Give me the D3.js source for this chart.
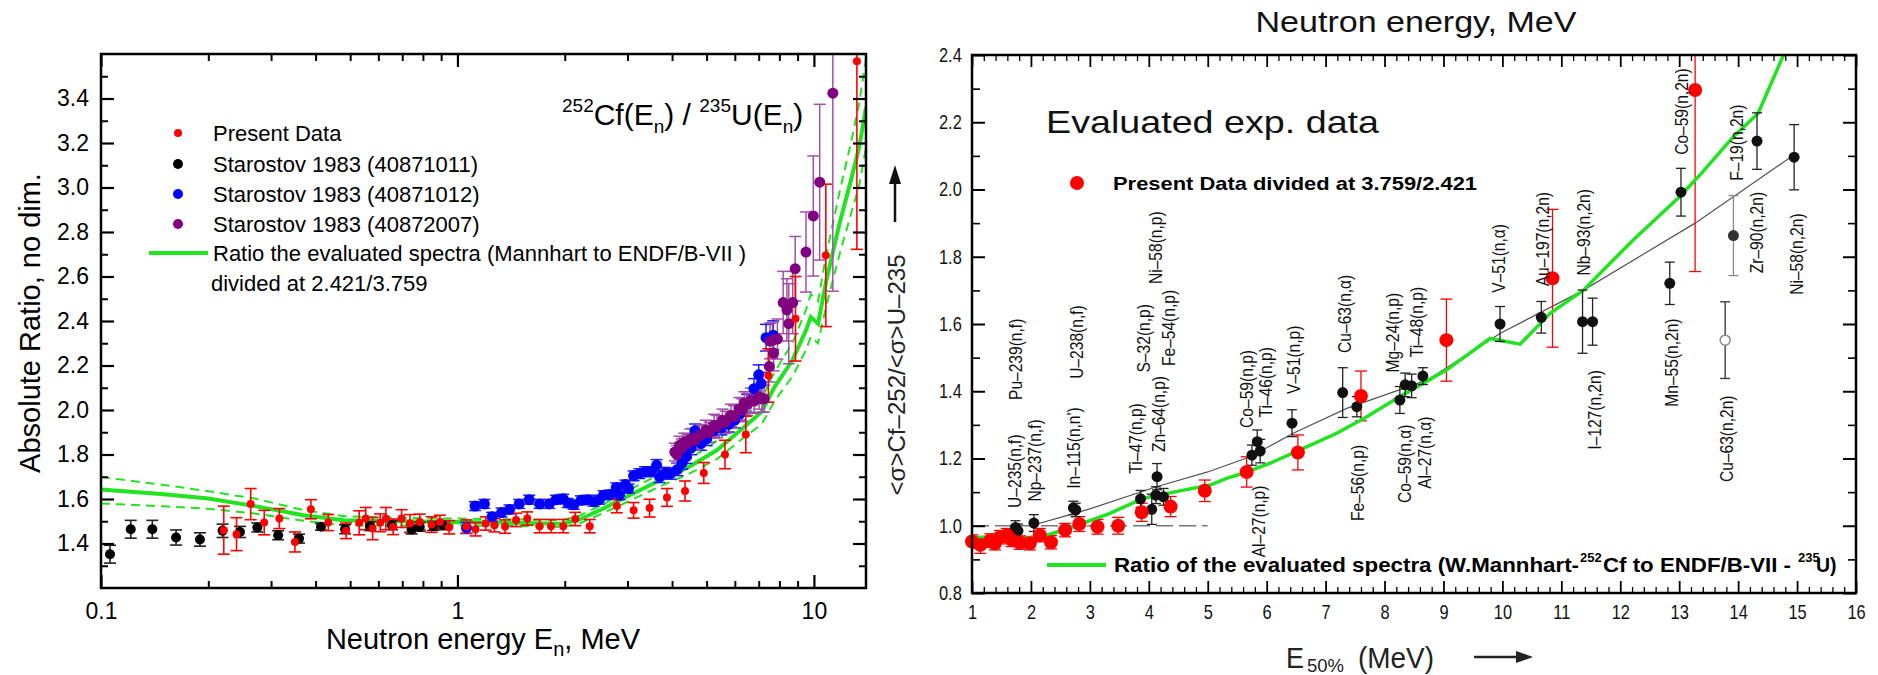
<!DOCTYPE html>
<html><head><meta charset="utf-8">
<script src="https://cdn.jsdelivr.net/npm/d3@7"></script>
<style>body{margin:0;background:#fff}svg{display:block}</style>
</head><body>
<svg id="c" width="1878" height="675"></svg>
<script>
// ---------------- LEFT PANEL DATA ----------------
const leftXTicks = [0.1, 1, 10];
const leftXMinor = [0.2,0.3,0.4,0.5,0.6,0.7,0.8,0.9,2,3,4,5,6,7,8,9];
const leftYTicks = [1.4,1.6,1.8,2.0,2.2,2.4,2.6,2.8,3.0,3.2,3.4];
const leftYMinor = [1.3,1.5,1.7,1.9,2.1,2.3,2.5,2.7,2.9,3.1,3.3,3.5];

const presentE = [0.221,0.240,0.263,0.287,0.3165,0.350,0.388,0.434,0.487,0.530,
 0.553,0.578,0.607,0.630,0.660,0.697,0.736,0.784,0.846,0.893,
 0.948,1.06,1.124,1.20,1.27,1.36,1.46,1.57,1.70,1.83,
 1.98,2.14,2.35,2.80,3.12,3.46,3.87,4.35,4.91,5.63,
 6.44,7.45,8.88,10.8,13.2];
const presentV = [1.460,1.442,1.577,1.494,1.512,1.407,1.554,1.494,1.457,1.493,
 1.512,1.467,1.493,1.512,1.475,1.512,1.490,1.497,1.485,1.497,
 1.473,1.476,1.464,1.490,1.482,1.476,1.506,1.512,1.478,1.478,
 1.478,1.510,1.478,1.568,1.549,1.559,1.607,1.636,1.717,1.800,
 1.890,2.155,2.410,2.695,3.567];
const presentErr = [0.108,0.074,0.070,0.055,0.045,0.045,0.043,0.036,0.035,0.054,
 0.050,0.050,0.040,0.050,0.035,0.040,0.040,0.035,0.035,0.030,
 0.030,0.030,0.030,0.030,0.030,0.030,0.030,0.030,0.030,0.030,
 0.030,0.030,0.030,0.030,0.035,0.040,0.040,0.045,0.047,0.064,
 0.082,0.120,0.190,0.320,0.845];

const blackE = [0.106,0.1212,0.1393,0.1624,0.1895,0.2193,0.2454,0.2745,0.314,0.3594,
 0.4141,0.484,0.569,0.655,0.7435,0.784,0.855,0.91];
const blackV = [1.352,1.464,1.464,1.427,1.418,1.457,1.452,1.472,1.437,1.422,
 1.475,1.464,1.478,1.482,1.463,1.475,1.479,1.482];
const blackErr = [0.04,0.04,0.04,0.034,0.03,0.03,0.025,0.02,0.02,0.02,
 0.015,0.02,0.02,0.02,0.02,0.02,0.02,0.02];

const blueE = [1.06,1.12,1.19,1.25,1.33,1.40,1.49,1.59,1.70,1.81,
 1.89,1.98,2.04,2.12,2.22,2.32,2.41,2.50,2.57,2.68,
 2.79,2.85,2.96,3.02,3.12,3.24,3.36,3.49,3.62,3.69,
 3.82,3.96,4.14,4.27,4.39,4.52,4.64,4.82,5.00,5.24,
 5.50,5.77,6.00,6.20,6.50,6.79,7.00,7.11,7.34,7.69];
const blueV = [1.470,1.568,1.578,1.520,1.539,1.553,1.578,1.597,1.578,1.578,
 1.597,1.601,1.582,1.574,1.594,1.597,1.588,1.597,1.617,1.620,
 1.652,1.617,1.665,1.647,1.704,1.714,1.723,1.723,1.752,1.699,
 1.717,1.714,1.733,1.762,1.790,1.829,1.907,1.849,1.870,1.907,
 1.920,1.936,1.955,1.983,2.030,2.096,2.158,2.119,2.325,2.336];
const blueErr = [0.025,0.02,0.02,0.02,0.02,0.02,0.02,0.02,0.02,0.02,
 0.02,0.02,0.02,0.02,0.02,0.02,0.02,0.02,0.02,0.02,
 0.02,0.02,0.02,0.02,0.022,0.022,0.022,0.022,0.025,0.025,
 0.025,0.025,0.028,0.028,0.03,0.03,0.03,0.03,0.03,0.032,
 0.032,0.035,0.035,0.035,0.04,0.045,0.045,0.05,0.06,0.065];

const purpleE = [4.07,4.13,4.20,4.26,4.33,4.42,4.50,4.57,4.65,4.77,
 4.85,4.98,5.10,5.25,5.35,5.54,5.65,5.85,5.97,6.18,
 6.30,6.38,6.50,6.65,6.80,7.02,7.15,7.25,7.50,7.53,
 7.65,7.71,7.90,8.20,8.40,8.50,8.72,8.86,9.50,9.96,
 10.38,11.30];
const purpleV = [1.811,1.800,1.842,1.830,1.856,1.850,1.870,1.872,1.865,1.886,
 1.890,1.909,1.900,1.931,1.925,1.954,1.945,1.976,1.970,2.006,
 2.000,2.032,2.025,2.044,2.040,2.059,2.050,2.051,2.196,2.310,
 2.313,2.256,2.319,2.483,2.450,2.388,2.483,2.635,2.710,2.872,
 3.024,3.424];
const purpleErr = [0.04,0.04,0.04,0.04,0.04,0.04,0.045,0.045,0.045,0.045,
 0.045,0.045,0.045,0.05,0.05,0.05,0.05,0.05,0.05,0.05,
 0.05,0.05,0.05,0.055,0.055,0.055,0.06,0.06,0.07,0.08,
 0.08,0.08,0.09,0.14,0.14,0.18,0.14,0.145,0.18,0.27,
 0.35,0.89];

const greenE = [0.1,0.15,0.2,0.27,0.37,0.48,0.7,1.0,1.5,1.97,
 2.2,2.55,3.07,3.7,4.45,5.35,6.4,7.13,7.75,8.7,
 9.5,9.8,10.27,10.84,11.8,12.7,13.4,14.0];
const greenMid = [1.643,1.621,1.602,1.568,1.527,1.505,1.500,1.497,1.492,1.489,
 1.508,1.555,1.620,1.684,1.743,1.820,1.926,1.991,2.103,2.223,
 2.358,2.418,2.388,2.583,2.838,3.032,3.182,3.360];
const greenHi = [1.699,1.663,1.635,1.602,1.550,1.523,1.515,1.512,1.508,1.505,
 1.525,1.575,1.645,1.712,1.777,1.862,1.977,2.050,2.170,2.300,
 2.450,2.520,2.490,2.700,2.980,3.200,3.380,3.580];
const greenLo = [1.580,1.567,1.556,1.535,1.502,1.482,1.480,1.482,1.478,1.474,
 1.490,1.535,1.595,1.657,1.712,1.780,1.880,1.935,2.040,2.150,
 2.270,2.330,2.300,2.470,2.700,2.880,3.010,3.180];

const legendLeft = ["Present Data","Starostov 1983 (40871011)","Starostov 1983 (40871012)","Starostov 1983 (40872007)"];

// ---------------- RIGHT PANEL DATA ----------------
const rightXTicks = [1,2,3,4,5,6,7,8,9,10,11,12,13,14,15,16];
const rightYTicks = [0.8,1.0,1.2,1.4,1.6,1.8,2.0,2.2,2.4];
const rightYMinor = [0.9,1.1,1.3,1.5,1.7,1.9,2.1,2.3];

const blackRx = [1.737,1.78,2.05,2.72,2.76,3.86,4.05,4.12,4.14,4.25,
 5.75,5.84,5.89,6.43,7.29,7.53,8.26,8.35,8.46,8.65,
 9.96,10.66,11.36,11.53,12.84,13.03,14.32,14.95];
const blackRy = [0.995,0.985,1.008,1.053,1.047,1.08,1.049,1.091,1.146,1.086,
 1.21,1.25,1.222,1.305,1.396,1.354,1.374,1.419,1.416,1.445,
 1.60,1.62,1.607,1.607,1.721,1.992,2.144,2.096];
const blackRerr = [0.02,0.02,0.025,0.02,0.02,0.025,0.045,0.025,0.039,0.025,
 0.03,0.035,0.035,0.04,0.074,0.03,0.04,0.035,0.035,0.025,
 0.052,0.047,0.094,0.07,0.063,0.071,0.084,0.097];
const grayRx = [13.92], grayRy = [1.863], grayRerr = [0.119];
const openRx = [13.78], openRy = [1.552], openRerr = [0.114];

const redRx = [1.0,1.14,1.31,1.39,1.475,1.59,1.67,1.81,1.98,2.15,
 2.34,2.58,2.82,3.13,3.48,3.88,4.37,4.95,5.66,6.53,
 7.60,9.05,10.85,13.27];
const redRy = [0.953,0.943,0.956,0.948,0.966,0.972,0.958,0.95,0.948,0.972,
 0.951,0.987,1.005,0.997,1.0,1.04,1.057,1.104,1.16,1.218,
 1.386,1.552,1.736,2.296];
const redRerr = [0.02,0.025,0.02,0.02,0.02,0.02,0.02,0.02,0.02,0.02,
 0.02,0.02,0.022,0.022,0.025,0.027,0.03,0.032,0.045,0.052,
 0.074,0.122,0.205,0.54];

const greenRx = [1.0,1.3,1.79,2.27,2.72,3.34,3.91,4.59,5.04,5.32,
 5.60,6.06,6.62,7.19,7.70,8.26,9.05,9.79,10.30,10.81,
 11.37,12.22,13.01,13.35,13.92,14.34,14.77,15.0];
const greenRy = [0.966,0.965,0.96,0.972,0.997,1.037,1.082,1.106,1.121,1.141,
 1.156,1.186,1.23,1.275,1.324,1.384,1.463,1.557,1.54,1.632,
 1.70,1.85,1.979,2.043,2.157,2.227,2.40,2.48];

const fitRx = [2.0,2.5,3.0,4.13,5.0,5.72,6.45,7.36,8.72,9.96,11.37,13.27,14.95];
const fitRy = [1.0,1.025,1.05,1.116,1.16,1.205,1.275,1.349,1.433,1.572,1.70,1.90,2.103];

const unityX = [1, 5], unityY = [1.0, 1.0];

const labels = ["U–235(n,f)","Pu–239(n,f)","Np–237(n,f)","In–115(n,n')","U–238(n,f)",
 "Ti–47(n,p)","Zn–64(n,p)","S–32(n,p)","Fe–54(n,p)","Ni–58(n,p)",
 "Al–27(n,p)","Co–59(n,p)","Ti–46(n,p)","V–51(n,p)","Cu–63(n,α)",
 "Fe–56(n,p)","Mg–24(n,p)","Ti–48(n,p)","Co–59(n,α)","Al–27(n,α)",
 "V–51(n,α)","Au–197(n,2n)","Nb–93(n,2n)","I–127(n,2n)","Mn–55(n,2n)",
 "Co–59(n,2n)","Cu–63(n,2n)","F–19(n,2n)","Zr–90(n,2n)","Ni–58(n,2n)"];
const labelX = [1.713,1.730,2.052,2.721,2.773,3.780,4.172,3.907,4.329,4.119,
 5.865,5.653,5.972,6.447,7.316,7.538,8.141,8.543,8.331,8.670,
 9.941,10.683,11.368,11.560,12.873,13.043,13.805,13.964,14.304,14.989];
const labelY = [1.053,1.374,1.072,1.110,1.437,1.155,1.219,1.456,1.475,1.719,
 0.906,1.291,1.322,1.392,1.514,1.014,1.456,1.501,1.068,1.110,
 1.693,1.712,1.744,1.226,1.354,2.103,1.130,2.026,1.751,1.687];

// ---------------- DRAWING ----------------
const svg = d3.select("#c");
svg.append("rect").attr("width",1878).attr("height",675).attr("fill","#fff");
const FONT = "Liberation Sans, Arial, Helvetica, sans-serif";
const idx = n => d3.range(n);

const xL = d3.scaleLog().domain([0.1,14]).range([101,866]);
const yL = d3.scaleLinear().domain([1.2,3.6]).range([588,54]);
const xR = d3.scaleLinear().domain([1,16]).range([972,1856]);
const yR = d3.scaleLinear().domain([0.8,2.4]).range([593,55]);

const defs = svg.append("defs");
defs.append("clipPath").attr("id","clipL").append("rect").attr("x",101).attr("y",54).attr("width",765).attr("height",534);
defs.append("clipPath").attr("id","clipR").append("rect").attr("x",972).attr("y",55).attr("width",884).attr("height",538);

function errBars(g, xs, ys, es, xs_, ys_, color, cap, w){
  const n = xs.length;
  g.selectAll(null).data(idx(n)).join("line")
    .attr("x1",i=>xs_(xs[i])).attr("x2",i=>xs_(xs[i]))
    .attr("y1",i=>ys_(ys[i]-es[i])).attr("y2",i=>ys_(ys[i]+es[i]))
    .attr("stroke",color).attr("stroke-width",w);
  [-1,1].forEach(s=>{
    g.selectAll(null).data(idx(n)).join("line")
      .attr("x1",i=>xs_(xs[i])-cap).attr("x2",i=>xs_(xs[i])+cap)
      .attr("y1",i=>ys_(ys[i]+s*es[i])).attr("y2",i=>ys_(ys[i]+s*es[i]))
      .attr("stroke",color).attr("stroke-width",w);
  });
}
function dots(g, xs, ys, xs_, ys_, r, fill){
  g.selectAll(null).data(idx(xs.length)).join("circle")
    .attr("cx",i=>xs_(xs[i])).attr("cy",i=>ys_(ys[i])).attr("r",r).attr("fill",fill);
}
function styleAxis(sel, w){
  sel.select(".domain").remove();
  sel.selectAll("line").attr("stroke","#000").attr("stroke-width",w);
}

// ===== LEFT PANEL =====
const gL = svg.append("g");
const lineL = d3.line().x(d=>xL(d[0])).y(d=>yL(d[1]));
const gLc = gL.append("g").attr("clip-path","url(#clipL)");
const GREEN = "#1fe41f";
gLc.append("path").attr("d",lineL(greenE.map((e,i)=>[e,greenHi[i]]))).attr("fill","none").attr("stroke",GREEN).attr("stroke-width",2).attr("stroke-dasharray","9,6");
gLc.append("path").attr("d",lineL(greenE.map((e,i)=>[e,greenLo[i]]))).attr("fill","none").attr("stroke",GREEN).attr("stroke-width",2).attr("stroke-dasharray","9,6");
gLc.append("path").attr("d",lineL(greenE.map((e,i)=>[e,greenMid[i]]))).attr("fill","none").attr("stroke",GREEN).attr("stroke-width",4);

errBars(gLc, blackE, blackV, blackErr, xL, yL, "#222", 6, 1.6);
dots(gL, blackE, blackV, xL, yL, 5, "#000");
errBars(gLc, blueE, blueV, blueErr, xL, yL, "#1a1aff", 6, 1.5);
dots(gL, blueE, blueV, xL, yL, 5.5, "#0000ff");
errBars(gLc, purpleE, purpleV, purpleErr, xL, yL, "#a050a8", 6, 1.5);
dots(gL, purpleE, purpleV, xL, yL, 5.5, "#800080");
errBars(gLc, presentE, presentV, presentErr, xL, yL, "#ff0000", 6, 1.6);
dots(gL, presentE, presentV, xL, yL, 4, "#ff0000");

// axes
const axB = gL.append("g").attr("transform","translate(0,588)")
  .call(d3.axisBottom(xL).tickValues(leftXTicks).tickSize(-13).tickPadding(15).tickFormat(d=>d<1?"0.1":String(d)));
styleAxis(axB,2.2);
axB.selectAll("text").attr("font-size",23).attr("font-family",FONT).attr("fill","#000");
const axBm = gL.append("g").attr("transform","translate(0,588)")
  .call(d3.axisBottom(xL).tickValues(leftXMinor).tickSize(-7).tickFormat(""));
styleAxis(axBm,2);
const axT = gL.append("g").attr("transform","translate(0,54)")
  .call(d3.axisTop(xL).tickValues(leftXTicks).tickSize(-13).tickFormat(""));
styleAxis(axT,2.2);
const axTm = gL.append("g").attr("transform","translate(0,54)")
  .call(d3.axisTop(xL).tickValues(leftXMinor).tickSize(-7).tickFormat(""));
styleAxis(axTm,2);
const axLy = gL.append("g").attr("transform","translate(101,0)")
  .call(d3.axisLeft(yL).tickValues(leftYTicks).tickSize(-13).tickPadding(12).tickFormat(d3.format(".1f")));
styleAxis(axLy,2.2);
axLy.selectAll("text").attr("font-size",23).attr("font-family",FONT).attr("fill","#000");
const axLym = gL.append("g").attr("transform","translate(101,0)")
  .call(d3.axisLeft(yL).tickValues(leftYMinor).tickSize(-7).tickFormat(""));
styleAxis(axLym,2);
const axRy = gL.append("g").attr("transform","translate(866,0)")
  .call(d3.axisRight(yL).tickValues(leftYTicks).tickSize(-13).tickFormat(""));
styleAxis(axRy,2.2);
const axRym = gL.append("g").attr("transform","translate(866,0)")
  .call(d3.axisRight(yL).tickValues(leftYMinor).tickSize(-7).tickFormat(""));
styleAxis(axRym,2);
gL.append("rect").attr("x",101).attr("y",54).attr("width",765).attr("height",534).attr("fill","none").attr("stroke","#000").attr("stroke-width",2.5);

// titles left
gL.append("text").attr("transform","translate(30,323) rotate(-90)").attr("text-anchor","middle").attr("dominant-baseline","central")
  .attr("font-size",29).attr("font-family",FONT).text("Absolute Ratio, no dim.");
const xt = gL.append("text").attr("x",483).attr("y",649).attr("text-anchor","middle").attr("font-size",29).attr("font-family",FONT);
xt.append("tspan").text("Neutron energy E");
xt.append("tspan").attr("font-size",20).attr("dy",7).text("n");
xt.append("tspan").attr("dy",-7).text(", MeV");

const an = gL.append("text").attr("x",562).attr("y",125).attr("font-size",30).attr("font-family",FONT);
an.append("tspan").attr("font-size",19).attr("dy",-13).text("252");
an.append("tspan").attr("dy",13).text("Cf(E");
an.append("tspan").attr("font-size",19).attr("dy",8).text("n");
an.append("tspan").attr("dy",-8).text(") / ");
an.append("tspan").attr("font-size",19).attr("dy",-13).text("235");
an.append("tspan").attr("dy",13).text("U(E");
an.append("tspan").attr("font-size",19).attr("dy",8).text("n");
an.append("tspan").attr("dy",-8).text(")");

// legend left
const legRows = [133,164,194,224];
const legCols = ["#ff0000","#000","#0000ff","#800080"];
const legR = [4,5,5,5];
legendLeft.forEach((t,i)=>{
  gL.append("circle").attr("cx",178).attr("cy",legRows[i]).attr("r",legR[i]).attr("fill",legCols[i]);
  gL.append("text").attr("x",213).attr("y",legRows[i]+8).attr("font-size",22).attr("font-family",FONT).text(t);
});
gL.append("line").attr("x1",149).attr("x2",208).attr("y1",253).attr("y2",253).attr("stroke",GREEN).attr("stroke-width",4);
gL.append("text").attr("x",213).attr("y",261).attr("font-size",22).attr("font-family",FONT).text("Ratio the evaluated spectra (Mannhart to ENDF/B-VII )");
gL.append("text").attr("x",211).attr("y",291).attr("font-size",22).attr("font-family",FONT).text("divided at 2.421/3.759");

// ===== RIGHT PANEL =====
const gR = svg.append("g");
const lineR = d3.line().x(d=>xR(d[0])).y(d=>yR(d[1]));
const gRc = gR.append("g").attr("clip-path","url(#clipR)");
gRc.append("path").attr("d",lineR(unityX.map((x,i)=>[x,unityY[i]]))).attr("fill","none").attr("stroke","#777").attr("stroke-width",1.6).attr("stroke-dasharray","17,6");
gRc.append("path").attr("d",lineR(fitRx.map((x,i)=>[x,fitRy[i]]))).attr("fill","none").attr("stroke","#555").attr("stroke-width",1.2);

errBars(gR, blackRx, blackRy, blackRerr, xR, yR, "#222", 5, 1.3);
dots(gR, blackRx, blackRy, xR, yR, 5.5, "#111");
errBars(gR, grayRx, grayRy, grayRerr, xR, yR, "#888", 5, 1.3);
dots(gR, grayRx, grayRy, xR, yR, 5.5, "#333");
errBars(gR, openRx, openRy, openRerr, xR, yR, "#333", 5, 1.3);
gR.selectAll(null).data(idx(openRx.length)).join("circle").attr("cx",i=>xR(openRx[i])).attr("cy",i=>yR(openRy[i])).attr("r",5).attr("fill","#fff").attr("stroke","#888").attr("stroke-width",1.5);
errBars(gRc, redRx, redRy, redRerr, xR, yR, "#ff0000", 6, 1.3);
dots(gR, redRx, redRy, xR, yR, 7, "#ff0000");
gRc.append("path").attr("d",lineR(greenRx.map((x,i)=>[x,greenRy[i]]))).attr("fill","none").attr("stroke",GREEN).attr("stroke-width",3.5);

// labels rotated
gR.selectAll(null).data(idx(labels.length)).join("text")
  .attr("transform",i=>`translate(${xR(labelX[i])},${yR(labelY[i])}) rotate(-90) scale(0.82,1)`)
  .attr("dominant-baseline","central").attr("font-size",19).attr("font-family",FONT).attr("fill","#111")
  .text(i=>labels[i]);

// axes right
const rB = gR.append("g").attr("transform","translate(0,593)")
  .call(d3.axisBottom(xR).tickValues(rightXTicks).tickSize(-12).tickPadding(12).tickFormat(d3.format("d")));
styleAxis(rB,1.8);
rB.selectAll("text").attr("font-size",20).attr("font-family",FONT).attr("fill","#111").attr("transform","scale(0.82,1)");
const minorX = d3.range(1,16.001,0.2).filter(v=>Math.abs(v-Math.round(v))>0.01);
const rBm = gR.append("g").attr("transform","translate(0,593)").call(d3.axisBottom(xR).tickValues(minorX).tickSize(-6).tickFormat(""));
styleAxis(rBm,1.3);
const rT = gR.append("g").attr("transform","translate(0,55)").call(d3.axisTop(xR).tickValues(rightXTicks).tickSize(-12).tickFormat(""));
styleAxis(rT,1.8);
const rTm = gR.append("g").attr("transform","translate(0,55)").call(d3.axisTop(xR).tickValues(minorX).tickSize(-6).tickFormat(""));
styleAxis(rTm,1.3);
const rL = gR.append("g").attr("transform","translate(972,0)")
  .call(d3.axisLeft(yR).tickValues(rightYTicks).tickSize(-13).tickPadding(10).tickFormat(d3.format(".1f")));
styleAxis(rL,2);
rL.selectAll("text").attr("font-size",20).attr("font-family",FONT).attr("fill","#111").attr("x",-12.5).attr("transform","scale(0.82,1)");
const rLm = gR.append("g").attr("transform","translate(972,0)").call(d3.axisLeft(yR).tickValues(rightYMinor).tickSize(-8).tickFormat(""));
styleAxis(rLm,1.6);
const rRr = gR.append("g").attr("transform","translate(1856,0)").call(d3.axisRight(yR).tickValues(rightYTicks).tickSize(-13).tickFormat(""));
styleAxis(rRr,2);
const rRm = gR.append("g").attr("transform","translate(1856,0)").call(d3.axisRight(yR).tickValues(rightYMinor).tickSize(-8).tickFormat(""));
styleAxis(rRm,1.6);
gR.append("rect").attr("x",972).attr("y",55).attr("width",884).attr("height",538).attr("fill","none").attr("stroke","#000").attr("stroke-width",2.5);

// right texts
gR.append("text").attr("x",1416).attr("y",32).attr("text-anchor","middle").attr("font-size",30).attr("font-family",FONT)
  .attr("textLength",321).attr("lengthAdjust","spacingAndGlyphs").attr("fill","#111").text("Neutron energy, MeV");
gR.append("text").attr("x",1046).attr("y",133).attr("font-size",32).attr("font-family",FONT)
  .attr("textLength",333).attr("lengthAdjust","spacingAndGlyphs").attr("fill","#111").text("Evaluated  exp.  data");
gR.append("circle").attr("cx",1077).attr("cy",183).attr("r",7).attr("fill","#ff0000");
gR.append("text").attr("x",1113).attr("y",190).attr("font-size",18.5).attr("font-weight","bold").attr("font-family",FONT)
  .attr("textLength",364).attr("lengthAdjust","spacingAndGlyphs").text("Present Data divided at 3.759/2.421");
// bottom legend: one text element, superscripts as tspans
gR.append("line").attr("x1",1047).attr("x2",1106).attr("y1",565).attr("y2",565).attr("stroke",GREEN).attr("stroke-width",4);
const bl = gR.append("text").attr("x",1114).attr("y",572).attr("font-size",19.5).attr("font-weight","bold").attr("font-family",FONT);
bl.append("tspan").attr("textLength",465).attr("lengthAdjust","spacingAndGlyphs").text("Ratio of the evaluated spectra (W.Mannhart-");
bl.append("tspan").attr("x",1580).attr("dy",-10).attr("font-size",13).text("252");
bl.append("tspan").attr("x",1603).attr("dy",10).attr("textLength",188).attr("lengthAdjust","spacingAndGlyphs").text("Cf to ENDF/B-VII -");
bl.append("tspan").attr("x",1798).attr("dy",-10).attr("font-size",13).text("235");
bl.append("tspan").attr("x",1816).attr("dy",10).text("U)");
// x title
const xtR = gR.append("text").attr("x",1286).attr("y",668).attr("font-size",30).attr("font-family",FONT).attr("fill","#222");
xtR.append("tspan").attr("textLength",18).attr("lengthAdjust","spacingAndGlyphs").text("E");
xtR.append("tspan").attr("x",1307).attr("dy",4).attr("font-size",19).attr("textLength",37).attr("lengthAdjust","spacingAndGlyphs").text("50%");
xtR.append("tspan").attr("x",1358).attr("dy",-4).attr("textLength",76).attr("lengthAdjust","spacingAndGlyphs").text("(MeV)");
gR.append("line").attr("x1",1474).attr("x2",1518).attr("y1",657).attr("y2",657).attr("stroke","#222").attr("stroke-width",2.5);
gR.append("path").attr("d","M1533,657 L1516,651 L1516,663 Z").attr("fill","#222");
// y title
gR.append("text").attr("transform","translate(896,375) rotate(-90)").attr("text-anchor","middle").attr("dominant-baseline","central")
  .attr("font-size",24).attr("font-family",FONT).attr("fill","#222").attr("textLength",241).attr("lengthAdjust","spacingAndGlyphs")
  .text("<σ>Cf–252/<σ>U–235");
gR.append("line").attr("x1",895).attr("x2",895).attr("y1",222).attr("y2",182).attr("stroke","#111").attr("stroke-width",2.5);
gR.append("path").attr("d","M895,165 L889,184 L901,184 Z").attr("fill","#111");
</script>
</body></html>
